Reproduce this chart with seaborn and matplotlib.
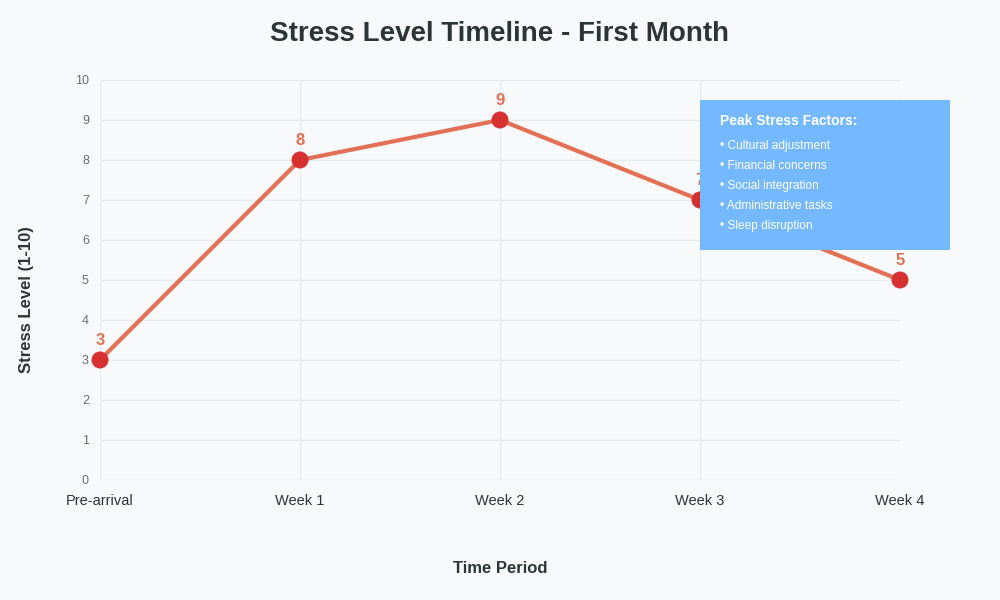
import matplotlib
matplotlib.use("Agg")
import matplotlib.pyplot as plt
from matplotlib.patches import Rectangle
import seaborn as sns
import pandas as pd

# data
periods = ["Pre-arrival", "Week 1", "Week 2", "Week 3", "Week 4"]
stress = [3, 8, 9, 7, 5]
factors = ["Cultural adjustment", "Financial concerns", "Social integration",
           "Administrative tasks", "Sleep disruption"]

df = pd.DataFrame({"period": periods, "stress": stress})

sns.set_theme(style="white")
plt.rcParams['font.family'] = ['Liberation Sans', 'DejaVu Sans']

bg = "#f8f9fa"
fig = plt.figure(figsize=(10, 6), dpi=100, facecolor=bg)
ax = fig.add_axes([0.1, 0.2, 0.8, 0.6667])
ax.set_facecolor(bg)

sns.lineplot(data=df, x="period", y="stress", ax=ax, color="#e17055",
             linewidth=3, sort=False, zorder=3)
sns.scatterplot(data=df, x="period", y="stress", ax=ax, color="#d63031",
                s=150, edgecolor="none", zorder=4, clip_on=False)

for i, v in enumerate(stress):
    ax.annotate(str(v), (i, v), xytext=(0, 14), textcoords="offset points",
                ha="center", va="center", fontsize=12, fontweight="bold",
                color="#e17055", zorder=5)

ax.set_xlim(0, len(periods) - 1)
ax.set_ylim(0, 10)
ax.set_yticks(range(0, 11))
ax.grid(True, color="#e9ecef", linewidth=1)
ax.set_axisbelow(True)
for s in ax.spines.values():
    s.set_visible(False)
ax.tick_params(axis="y", labelsize=9, labelcolor="#636e72", length=0, pad=8)
ax.tick_params(axis="x", labelsize=10.5, labelcolor="#2d3436", length=0, pad=10)

ax.set_xlabel("Time Period", fontsize=12, fontweight="bold", color="#2d3436", labelpad=38)
ax.set_ylabel("Stress Level (1-10)", fontsize=12, fontweight="bold", color="#2d3436")
ax.yaxis.set_label_coords(-0.0825, 0.45)
fig.suptitle("Stress Level Timeline - First Month", fontsize=20, fontweight="bold",
             color="#2d3436", y=0.943, va="center")

# info box
fig.add_artist(Rectangle((0.70, 0.5833), 0.25, 0.25, transform=fig.transFigure,
                         facecolor="#74b9ff", edgecolor="none", zorder=10))
fig.text(0.72, 0.7983, "Peak Stress Factors:", fontsize=10, fontweight="bold",
         color="white", va="center", zorder=11)
for k, f in enumerate(factors):
    fig.text(0.72, 0.7567 - k * 0.0333, "\u2022 " + f, fontsize=8.6, color="white",
             va="center", zorder=11)

fig.savefig("out.png", dpi=100, facecolor=bg)
